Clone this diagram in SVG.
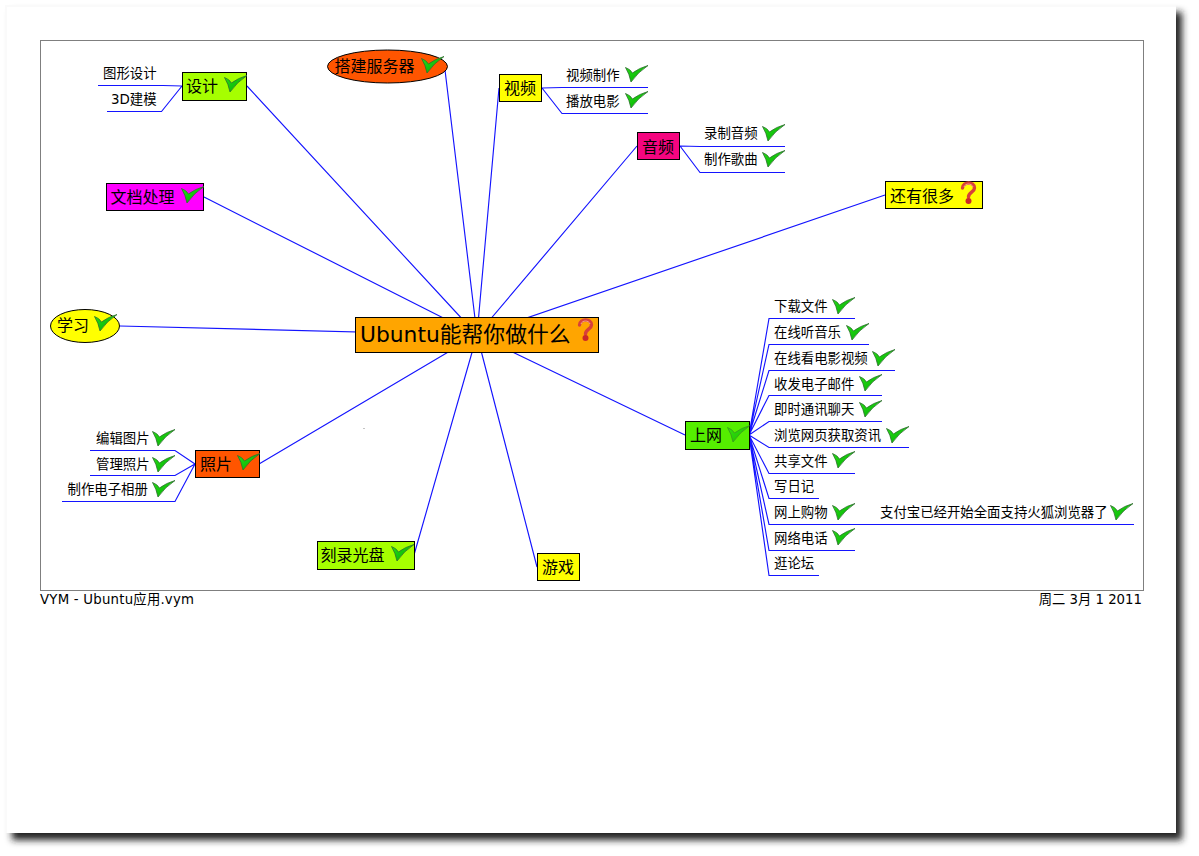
<svg xmlns="http://www.w3.org/2000/svg" width="1199" height="856" viewBox="0 0 1199 856">
<style>
text{font-family:"DejaVu Sans","Noto Sans CJK SC",sans-serif;fill:#000}
.s{font-size:13.4px}
.m{font-size:16px}
.l{font-size:21.8px}
.f{font-size:13.3px}
.b{stroke:#000;stroke-width:1}
.c{fill:none;stroke:#1414ff;stroke-width:1.15}
</style>
<defs>
<filter id="blur" x="-5%" y="-5%" width="110%" height="110%"><feGaussianBlur stdDeviation="3.5"/></filter>
<linearGradient id="g" x1="0" y1="0" x2="1" y2="1"><stop offset="0" stop-color="#28e018"/><stop offset="1" stop-color="#00a800"/></linearGradient>
<g id="chk"><path d="M0.500 2.500 Q5 4 7.500 8 Q14 3 23 0.500 Q13 7 6 17 Q4.500 9 0.500 2.500 Z" fill="url(#g)" stroke="#2f6f2f" stroke-width="0.8" stroke-linejoin="round"/></g>
<g id="qm"><path d="M1.500 7 C1.500 0.500 13.500 0 13.500 7 C13.500 11 7.500 11.500 7.500 16" fill="none" stroke="#d8403a" stroke-width="3.400" stroke-linecap="round"/><path d="M3 6 C4 2 11 2 12 6" fill="none" stroke="#f0a090" stroke-width="1"/><circle cx="7.500" cy="20" r="3" fill="#cc2828"/></g>
</defs>
<rect x="12" y="12" width="1170" height="828" fill="#222" filter="url(#blur)"/>
<rect x="5" y="5" width="1171" height="828" fill="#fafafa"/>
<rect x="7" y="7" width="1169" height="826" fill="#fff"/>
<rect x="40.500" y="40.500" width="1103" height="550" fill="#fff" stroke="#7f7f7f"/>
<rect x="363.500" y="428" width="1" height="1" fill="#888"/>

<g id="connectors" class="c">
<path d="M477 335L247 86M477 335L204 197M477 335L445 70M477 335L499 88M477 335L637 146M477 335L885 195M477 335L120 326M477 335L685 435M477 335L259 464M477 335L414 555M477 335L537 567"/>
<path d="M182 86L163 85.500H98M182 86L161.500 111.500H107"/>
<path d="M542 88L562 87.500H648M542 88L562 113.500H648"/>
<path d="M680 146L700 146.500H785M680 146L700 172.500H785"/>
<path d="M749 435L769 318.500H855M749 435L769 344.500H869M749 435L769 370.500H895M749 435L769 395.500H882M749 435L769 421.500H882M749 435L769 447.500H909M749 435L769 473.500H855M749 435L769 498.500H819M749 435L769 524.500H1134M749 435L769 550.500H855M749 435L769 575.500H819"/>
<path d="M195 464L175 450.500H90M195 464L175 475.500H90M195 464L175 501.500H62"/>
</g>

<g id="center"><rect class="b" x="355.500" y="317.500" width="243" height="35" fill="#ffa500"/><text class="l" x="360" y="342">Ubuntu能帮你做什么</text><use href="#qm" transform="translate(578 318)"/></g>
<g id="n-sheji"><rect class="b" x="182.500" y="72.500" width="64" height="28" fill="#a6ff00"/><text class="m" x="186" y="92">设计</text><use href="#chk" x="224" y="75"/></g>
<g id="n-wendang"><rect class="b" x="106.500" y="183.500" width="97" height="27" fill="#ff00ff"/><text class="m" x="110.500" y="203">文档处理</text><use href="#chk" x="181" y="186"/></g>
<g id="n-server"><ellipse class="b" cx="387.500" cy="66.500" rx="60" ry="16.500" fill="#ff5500"/><text class="m" x="334.500" y="72">搭建服务器</text><use href="#chk" x="421" y="56"/></g>
<g id="n-video"><rect class="b" x="499.500" y="74.500" width="42" height="27" fill="#ffff00"/><text class="m" x="504" y="94">视频</text></g>
<g id="n-audio"><rect class="b" x="637.500" y="132.500" width="42" height="27" fill="#f5057f"/><text class="m" x="642" y="152.500">音频</text></g>
<g id="n-more"><rect class="b" x="885.500" y="181.500" width="97" height="27" fill="#ffff00"/><text class="m" x="890" y="201.500">还有很多</text><use href="#qm" transform="translate(961 181)"/></g>
<g id="n-study"><ellipse class="b" cx="85" cy="326" rx="34.500" ry="16.500" fill="#ffff00"/><text class="m" x="57" y="330.500">学习</text><use href="#chk" x="94" y="314"/></g>
<g id="n-net"><rect class="b" x="685.500" y="421.500" width="64" height="28" fill="#55ee00"/><text class="m" x="690" y="441">上网</text><use href="#chk" x="727" y="425" opacity="0.7"/></g>
<g id="n-photo"><rect class="b" x="195.500" y="450.500" width="64" height="27" fill="#ff5500"/><text class="m" x="200" y="470">照片</text><use href="#chk" x="237" y="453"/></g>
<g id="n-burn"><rect class="b" x="317.500" y="541.500" width="97" height="28" fill="#a6ff00"/><text class="m" x="320.500" y="561">刻录光盘</text><use href="#chk" x="391" y="544"/></g>
<g id="n-game"><rect class="b" x="537.500" y="553.500" width="42" height="27" fill="#ffff00"/><text class="m" x="542" y="573">游戏</text></g>

<g id="c1"><text class="s" x="103" y="78">图形设计</text></g>
<g id="c2"><text class="s" x="111" y="104">3D建模</text></g>
<g id="c3"><text class="s" x="566" y="80">视频制作</text><use href="#chk" x="625" y="65"/></g>
<g id="c4"><text class="s" x="566" y="106">播放电影</text><use href="#chk" x="625" y="91"/></g>
<g id="c5"><text class="s" x="704" y="138">录制音频</text><use href="#chk" x="762" y="124"/></g>
<g id="c6"><text class="s" x="704" y="164">制作歌曲</text><use href="#chk" x="762" y="150"/></g>
<g id="c7"><text class="s" x="774" y="311">下载文件</text><use href="#chk" x="832" y="297"/></g>
<g id="c8"><text class="s" x="774" y="337">在线听音乐</text><use href="#chk" x="846" y="323"/></g>
<g id="c9"><text class="s" x="774" y="363">在线看电影视频</text><use href="#chk" x="872" y="349"/></g>
<g id="c10"><text class="s" x="774" y="389">收发电子邮件</text><use href="#chk" x="859" y="374"/></g>
<g id="c11"><text class="s" x="774" y="414">即时通讯聊天</text><use href="#chk" x="859" y="400"/></g>
<g id="c12"><text class="s" x="774" y="440">浏览网页获取资讯</text><use href="#chk" x="886" y="426"/></g>
<g id="c13"><text class="s" x="774" y="466">共享文件</text><use href="#chk" x="832" y="451"/></g>
<g id="c14"><text class="s" x="774" y="491">写日记</text></g>
<g id="c15"><text class="s" x="774" y="517">网上购物</text><use href="#chk" x="832" y="503"/></g>
<g id="c16"><text class="s" x="880" y="517">支付宝已经开始全面支持火狐浏览器了</text><use href="#chk" x="1110" y="503"/></g>
<g id="c17"><text class="s" x="774" y="543">网络电话</text><use href="#chk" x="832" y="528"/></g>
<g id="c18"><text class="s" x="774" y="568">逛论坛</text></g>
<g id="c19"><text class="s" x="96" y="443">编辑图片</text><use href="#chk" x="152" y="429"/></g>
<g id="c20"><text class="s" x="96" y="469">管理照片</text><use href="#chk" x="152" y="455"/></g>
<g id="c21"><text class="s" x="67.500" y="494">制作电子相册</text><use href="#chk" x="152" y="480"/></g>

<text class="f" x="40" y="604" textLength="154" lengthAdjust="spacing">VYM - Ubuntu应用.vym</text>
<text class="f" x="1142" y="604" text-anchor="end">周二 3月 1 2011</text>
</svg>
